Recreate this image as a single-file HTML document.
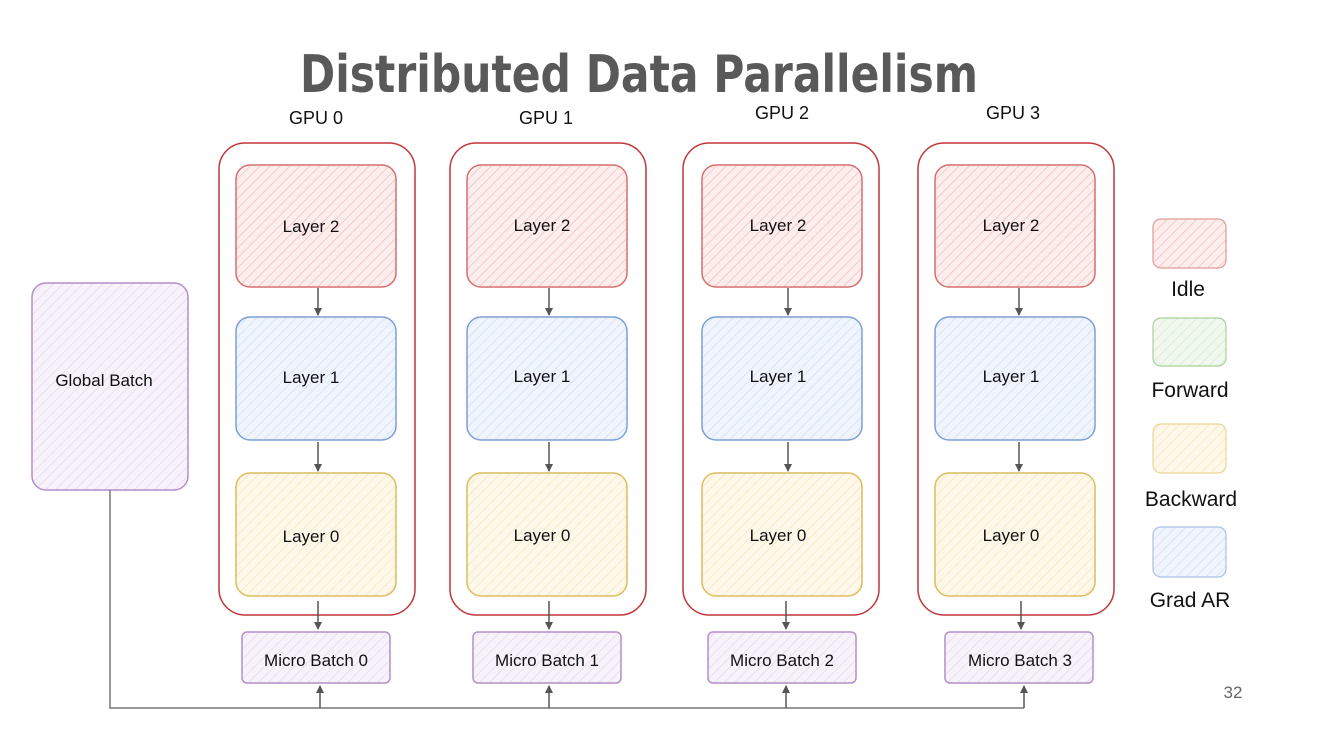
<!DOCTYPE html>
<html><head><meta charset="utf-8"><style>html,body{margin:0;padding:0;background:#fff}svg{display:block}</style></head>
<body>
<svg width="1318" height="754" viewBox="0 0 1318 754" xmlns="http://www.w3.org/2000/svg" font-family="Liberation Sans, sans-serif">
<defs>
<pattern id="pr" width="7" height="7" patternUnits="userSpaceOnUse" patternTransform="rotate(45)"><rect width="7" height="7" fill="#fdeeee"/><line x1="0" y1="0" x2="0" y2="7" stroke="#f3bcbc" stroke-width="1.5"/></pattern>
<pattern id="pb" width="7" height="7" patternUnits="userSpaceOnUse" patternTransform="rotate(45)"><rect width="7" height="7" fill="#f0f4fc"/><line x1="0" y1="0" x2="0" y2="7" stroke="#d3def3" stroke-width="1.5"/></pattern>
<pattern id="py" width="7" height="7" patternUnits="userSpaceOnUse" patternTransform="rotate(45)"><rect width="7" height="7" fill="#fef8ea"/><line x1="0" y1="0" x2="0" y2="7" stroke="#f7e6bf" stroke-width="1.5"/></pattern>
<pattern id="pg" width="7" height="7" patternUnits="userSpaceOnUse" patternTransform="rotate(45)"><rect width="7" height="7" fill="#f1f8ef"/><line x1="0" y1="0" x2="0" y2="7" stroke="#d6ebd0" stroke-width="1.5"/></pattern>
<pattern id="pp" width="7" height="7" patternUnits="userSpaceOnUse" patternTransform="rotate(45)"><rect width="7" height="7" fill="#f8f3fb"/><line x1="0" y1="0" x2="0" y2="7" stroke="#e6d8ee" stroke-width="1.5"/></pattern>
<marker id="ar" markerWidth="8" markerHeight="8" refX="7" refY="4" orient="auto" markerUnits="userSpaceOnUse"><path d="M0,0 L8,4 L0,8 z" fill="#555"/></marker>
</defs>
<text x="300" y="92" font-family="DejaVu Sans, sans-serif" font-weight="bold" font-size="52" fill="#595959" textLength="678" lengthAdjust="spacingAndGlyphs">Distributed Data Parallelism</text>

<!-- global batch -->
<rect x="32" y="283" width="156" height="207" rx="14" fill="url(#pp)" stroke="#b48fc9" stroke-width="1.5"/>
<text x="104" y="386" font-size="17" text-anchor="middle" fill="#111">Global Batch</text>
<polyline points="110,490 110,708 1024,708" fill="none" stroke="#777" stroke-width="1.5"/>

<g id="cols">
<!-- col generator manual -->
</g>
<g font-size="18" fill="#111" text-anchor="middle">
<text x="316" y="124">GPU 0</text><text x="546" y="124">GPU 1</text><text x="782" y="119">GPU 2</text><text x="1013" y="119">GPU 3</text>
</g>

<!-- column 0 -->
<g transform="translate(0,0)">
<rect x="219" y="143" width="196" height="472" rx="26" fill="none" stroke="#c0373a" stroke-width="1.5"/>
<rect x="236" y="165" width="160" height="122" rx="14" fill="url(#pr)" stroke="#d66e6e" stroke-width="1.5"/>
<rect x="236" y="317" width="160" height="123" rx="14" fill="url(#pb)" stroke="#7c9fd6" stroke-width="1.5"/>
<rect x="236" y="473" width="160" height="123" rx="14" fill="url(#py)" stroke="#dcbc5c" stroke-width="1.5"/>
<rect x="242" y="632" width="148" height="51" rx="5" fill="url(#pp)" stroke="#b48fc9" stroke-width="1.5"/>
<g font-size="17" fill="#111" text-anchor="middle"><text x="311" y="232">Layer 2</text><text x="311" y="383">Layer 1</text><text x="311" y="542">Layer 0</text><text x="316" y="666">Micro Batch 0</text></g>
<g stroke="#555" stroke-width="1.5" marker-end="url(#ar)"><line x1="318" y1="288" x2="318" y2="315"/><line x1="318" y1="442" x2="318" y2="471"/><line x1="318" y1="601" x2="318" y2="629"/><line x1="320" y1="708" x2="320" y2="686"/></g>
</g>
<g transform="translate(231,0)">
<rect x="219" y="143" width="196" height="472" rx="26" fill="none" stroke="#c0373a" stroke-width="1.5"/>
<rect x="236" y="165" width="160" height="122" rx="14" fill="url(#pr)" stroke="#d66e6e" stroke-width="1.5"/>
<rect x="236" y="317" width="160" height="123" rx="14" fill="url(#pb)" stroke="#7c9fd6" stroke-width="1.5"/>
<rect x="236" y="473" width="160" height="123" rx="14" fill="url(#py)" stroke="#dcbc5c" stroke-width="1.5"/>
<rect x="242" y="632" width="148" height="51" rx="5" fill="url(#pp)" stroke="#b48fc9" stroke-width="1.5"/>
<g font-size="17" fill="#111" text-anchor="middle"><text x="311" y="231">Layer 2</text><text x="311" y="382">Layer 1</text><text x="311" y="541">Layer 0</text><text x="316" y="666">Micro Batch 1</text></g>
<g stroke="#555" stroke-width="1.5" marker-end="url(#ar)"><line x1="318" y1="288" x2="318" y2="315"/><line x1="318" y1="442" x2="318" y2="471"/><line x1="318" y1="601" x2="318" y2="629"/><line x1="318" y1="708" x2="318" y2="686"/></g>
</g>
<g transform="translate(466,0)">
<rect x="217" y="143" width="196" height="472" rx="26" fill="none" stroke="#c0373a" stroke-width="1.5"/>
<rect x="236" y="165" width="160" height="122" rx="14" fill="url(#pr)" stroke="#d66e6e" stroke-width="1.5"/>
<rect x="236" y="317" width="160" height="123" rx="14" fill="url(#pb)" stroke="#7c9fd6" stroke-width="1.5"/>
<rect x="236" y="473" width="160" height="123" rx="14" fill="url(#py)" stroke="#dcbc5c" stroke-width="1.5"/>
<rect x="242" y="632" width="148" height="51" rx="5" fill="url(#pp)" stroke="#b48fc9" stroke-width="1.5"/>
<g font-size="17" fill="#111" text-anchor="middle"><text x="312" y="231">Layer 2</text><text x="312" y="382">Layer 1</text><text x="312" y="541">Layer 0</text><text x="316" y="666">Micro Batch 2</text></g>
<g stroke="#555" stroke-width="1.5" marker-end="url(#ar)"><line x1="322" y1="288" x2="322" y2="315"/><line x1="322" y1="442" x2="322" y2="471"/><line x1="320" y1="601" x2="320" y2="629"/><line x1="320" y1="708" x2="320" y2="686"/></g>
</g>
<g transform="translate(699,0)">
<rect x="219" y="143" width="196" height="472" rx="26" fill="none" stroke="#c0373a" stroke-width="1.5"/>
<rect x="236" y="165" width="160" height="122" rx="14" fill="url(#pr)" stroke="#d66e6e" stroke-width="1.5"/>
<rect x="236" y="317" width="160" height="123" rx="14" fill="url(#pb)" stroke="#7c9fd6" stroke-width="1.5"/>
<rect x="236" y="473" width="160" height="123" rx="14" fill="url(#py)" stroke="#dcbc5c" stroke-width="1.5"/>
<rect x="246" y="632" width="148" height="51" rx="5" fill="url(#pp)" stroke="#b48fc9" stroke-width="1.5"/>
<g font-size="17" fill="#111" text-anchor="middle"><text x="312" y="231">Layer 2</text><text x="312" y="382">Layer 1</text><text x="312" y="541">Layer 0</text><text x="321" y="666">Micro Batch 3</text></g>
<g stroke="#555" stroke-width="1.5" marker-end="url(#ar)"><line x1="320" y1="288" x2="320" y2="315"/><line x1="320" y1="442" x2="320" y2="471"/><line x1="322" y1="601" x2="322" y2="629"/><line x1="325" y1="708" x2="325" y2="686"/></g>
</g>

<!-- legend -->
<rect x="1153" y="219" width="73" height="49" rx="8" fill="url(#pr)" stroke="#e09a9a" stroke-width="1.2"/>
<rect x="1153" y="318" width="73" height="48" rx="8" fill="url(#pg)" stroke="#a6d19a" stroke-width="1.2"/>
<rect x="1153" y="424" width="73" height="49" rx="8" fill="url(#py)" stroke="#ecd594" stroke-width="1.2"/>
<rect x="1153" y="527" width="73" height="50" rx="8" fill="url(#pb)" stroke="#a9c0e6" stroke-width="1.2"/>
<g font-size="21" fill="#111" text-anchor="middle">
<text x="1188" y="296">Idle</text><text x="1190" y="397">Forward</text><text x="1191" y="506">Backward</text><text x="1190" y="607">Grad AR</text>
</g>
<text x="1233" y="698" font-size="17" fill="#666" text-anchor="middle">32</text>
</svg>
</body></html>
